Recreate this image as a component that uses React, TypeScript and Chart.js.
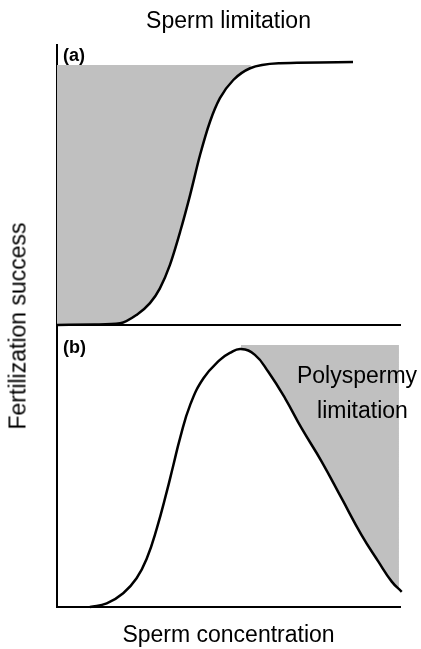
import React, { useEffect, useRef } from "react";
import { Chart, registerables } from "chart.js";

Chart.register(...registerables);

// ---- data (sperm concentration axis 0..100, fertilization success 0..1) ----
const xMin = 0;
const xMax = 100;

// (a) sperm limitation: sigmoid
const topX = [0, 11.1, 18.4, 23.2, 27.1, 30.0, 32.9, 35.9, 38.8, 41.7, 44.6, 47.5, 51.4, 56.3, 65.0, 86.3];
const topY = [0, 0.002, 0.006, 0.036, 0.078, 0.131, 0.214, 0.333, 0.464, 0.607, 0.726, 0.81, 0.875, 0.917, 0.935, 0.939];
// shaded region ceiling (a)
const topShadeX = [0, 56.5];
const topShadeY = [0.929, 0.929];

// (b) polyspermy: hump-shaped
const botX = [9.6, 14.5, 19.3, 23.2, 26.2, 29.1, 32.0, 33.9, 35.9, 38.8, 42.7, 47.5, 50.4, 53.6, 57.7, 61.6, 66.5, 71.3, 77.2, 83.0, 88.8, 93.7, 97.6, 100.5];
const botY = [0, 0.013, 0.049, 0.102, 0.173, 0.279, 0.409, 0.502, 0.6, 0.716, 0.811, 0.876, 0.901, 0.915, 0.894, 0.834, 0.74, 0.634, 0.515, 0.385, 0.255, 0.161, 0.09, 0.054];
// shaded region ceiling (b)
const botShadeX = [53.6, 99.7];
const botShadeY = [0.929, 0.929];

const titleText = "Sperm limitation";
const xTitleText = "Sperm concentration";
const yTitleText = "Fertilization success";
const panelLabels = ["(a)", "(b)"];
const shadeLabel = ["Polyspermy", "limitation"];

const FONT = "'Liberation Sans', Arial, Helvetica, sans-serif";
const GRAY = "#c0c0c0";
const INK = "#000000";

function pts(xs: number[], ys: number[]) {
  return xs.map((x, i) => ({ x, y: ys[i] }));
}

function axes(xTitle: boolean) {
  const border = { display: true, color: INK, width: 2 };
  const grid = { display: false, drawTicks: false, tickLength: 0 };
  return {
    x: {
      type: "linear" as const,
      min: xMin,
      max: xMax,
      ticks: { display: false },
      grid,
      border,
      title: xTitle
        ? {
            display: true,
            text: xTitleText,
            color: INK,
            font: { family: FONT, size: 23, weight: "normal" as const },
            padding: { top: 14.4, bottom: 0 },
          }
        : { display: false },
    },
    y: {
      type: "linear" as const,
      min: 0,
      max: 1,
      ticks: { display: false },
      grid,
      border,
    },
  };
}

function labelPlugin(which: "a" | "b") {
  return {
    id: "labels_" + which,
    afterDraw(chart: any) {
      const { ctx, chartArea } = chart;
      ctx.save();
      ctx.fillStyle = INK;
      ctx.textAlign = "left";
      ctx.textBaseline = "middle";
      ctx.font = `bold 18px ${FONT}`;
      if (which === "a") {
        ctx.fillText(panelLabels[0], chartArea.left + 6, chartArea.top + 11);
      } else {
        ctx.fillText(panelLabels[1], chartArea.left + 6, chartArea.top + 23);
        ctx.font = `23px ${FONT}`;
        ctx.textAlign = "center";
        ctx.textBaseline = "alphabetic";
        ctx.fillText(shadeLabel[0], chartArea.right - 43, chartArea.top + 58);
        ctx.fillText(shadeLabel[1], chartArea.right - 37.5, chartArea.top + 93);
      }
      ctx.restore();
    },
  };
}

function curveDataset(xs: number[], ys: number[], smooth: "monotone" | "bezier") {
  return {
    data: pts(xs, ys),
    borderColor: INK,
    borderWidth: 2.5,
    pointRadius: 0,
    cubicInterpolationMode: smooth === "monotone" ? ("monotone" as const) : ("default" as const),
    tension: 0.45,
    fill: false,
    clip: false as const,
  };
}

function shadeDataset(xs: number[], ys: number[]) {
  return {
    data: pts(xs, ys),
    borderWidth: 0,
    borderColor: "rgba(0,0,0,0)",
    backgroundColor: GRAY,
    pointRadius: 0,
    tension: 0,
    fill: 0,
  };
}

export default function App() {
  const topRef = useRef<HTMLCanvasElement | null>(null);
  const botRef = useRef<HTMLCanvasElement | null>(null);

  useEffect(() => {
    const common = {
      responsive: false,
      animation: false as const,
      events: [] as any[],
    };
    const top = new Chart(topRef.current as HTMLCanvasElement, {
      type: "line",
      data: {
        datasets: [curveDataset(topX, topY, "monotone"), shadeDataset(topShadeX, topShadeY)],
      },
      options: {
        ...common,
        layout: { padding: { left: 57, right: 21, top: 0, bottom: 5 } },
        scales: axes(false),
        plugins: {
          legend: { display: false },
          tooltip: { enabled: false },
          title: {
            display: true,
            text: titleText,
            color: INK,
            font: { family: FONT, size: 23, weight: "normal" },
            padding: { top: 8, bottom: 9.4 },
          },
        },
      },
      plugins: [labelPlugin("a")],
    } as any);

    const bot = new Chart(botRef.current as HTMLCanvasElement, {
      type: "line",
      data: {
        datasets: [curveDataset(botX, botY, "bezier"), shadeDataset(botShadeX, botShadeY)],
      },
      options: {
        ...common,
        layout: { padding: { left: 57, right: 21, top: 5, bottom: 0 } },
        scales: axes(true),
        plugins: {
          legend: { display: false },
          tooltip: { enabled: false },
          title: { display: false },
        },
      },
      plugins: [labelPlugin("b")],
    } as any);

    return () => {
      top.destroy();
      bot.destroy();
    };
  }, []);

  return (
    <div style={{ position: "absolute", left: 0, top: 0, width: 421, height: 649, background: "#fff", overflow: "hidden" }}>
      <canvas ref={topRef} width={421} height={330} style={{ position: "absolute", left: 0, top: 0, width: 421, height: 330 }} />
      <canvas ref={botRef} width={421} height={329} style={{ position: "absolute", left: 0, top: 320, width: 421, height: 329 }} />
      <div
        style={{
          position: "absolute",
          left: 18,
          top: 326,
          transform: "translate(-50%, -50%) rotate(-90deg)",
          font: `23px ${FONT}`,
          whiteSpace: "nowrap",
          color: INK,
        }}
      >
        {yTitleText}
      </div>
    </div>
  );
}
